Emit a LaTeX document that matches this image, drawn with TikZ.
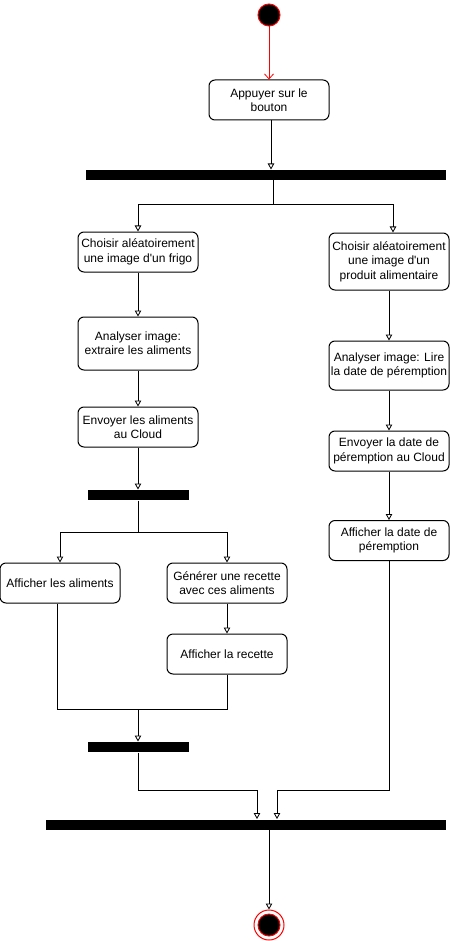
\documentclass[tikz,border=0pt]{standalone}
\usepackage{fontspec}
\setmainfont{Liberation Sans}[Ligatures=TeXOff]
\usetikzlibrary{arrows.meta}
\begin{document}
\begin{tikzpicture}[x=1pt,y=-1pt, line width=1pt,
 act/.style={draw, rounded corners=6pt, minimum width=120pt, align=center, font=\fontsize{12}{14.4}\selectfont, inner sep=0pt},
 bar/.style={fill=black, draw=none, inner sep=0pt, minimum height=10pt},
 arr/.style={-{Triangle[open,length=6pt,width=6.5pt,line width=0.8pt]}}
]
\useasboundingbox (0,0) rectangle (450,941);
% initial and final
\node[circle, fill=black, draw=red, minimum size=22pt, inner sep=0pt] (start) at (269,15) {};
\node[circle, draw=red, minimum size=30pt, inner sep=0pt] (end) at (269,925) {};
\node[circle, fill=black, draw=red, minimum size=22pt, inner sep=0pt] (endin) at (269,925) {};
% actions
\node[act, minimum height=40pt] (b1) at (269,100) {Appuyer sur le\\bouton};
\node[act, minimum height=40pt] (l1) at (138,252) {Choisir aléatoirement\\une image d'un frigo};
\node[act, minimum height=53pt] (l2) at (138,343.5) {Analyser image:\\extraire les aliments};
\node[act, minimum height=40pt] (l3) at (138,427) {Envoyer les aliments\\au Cloud};
\node[act, minimum height=40pt] (a1) at (60,583) {Afficher les aliments};
\node[act, minimum height=40pt] (g1) at (227,583) {Générer une recette\\avec ces aliments};
\node[act, minimum height=40pt] (g2) at (227,654) {Afficher la recette};
\node[act, minimum height=57pt] (r1) at (389,261.5) {Choisir aléatoirement\\une image d'un\\produit alimentaire};
\node[act, minimum height=49pt] (r2) at (389,365.5) {Analyser image: Lire\\la date de péremption};
\node[act, minimum height=40pt] (r3) at (389,451) {Envoyer la date de\\péremption au Cloud};
\node[act, minimum height=40pt] (r4) at (389,540.5) {Afficher la date de\\péremption};
% bars
\node[bar, minimum width=360pt] (bar1) at (266,175) {};
\node[bar, minimum width=101pt] (bar2) at (138.5,495) {};
\node[bar, minimum width=101pt] (bar3) at (138.5,747) {};
\node[bar, minimum width=400pt] (bar4) at (246,824.5) {};
% routing points
\coordinate (s1) at (273,205);
\coordinate (s2) at (138,532);
\coordinate (j1) at (138,709);
\coordinate (j2) at (257,790);
\coordinate (j3) at (277,790);
% connectors
\draw[red, -{Straight Barb[length=5pt,width=9pt,line width=0.8pt]}] (start) -- (b1);
\draw[arr] ([xshift=2pt]b1.south) -- ([xshift=2pt]b1.south |- bar1.north);
\draw (bar1.south -| s1) -- (s1);
\draw[arr] (s1) -| (l1.north);
\draw[arr] (s1) -| ([xshift=4pt]r1.north);
\draw[arr] (l1) -- (l2);
\draw[arr] (l2) -- (l3);
\draw[arr] (l3) -- (l3.south |- bar2.north);
\draw (bar2.south -| s2) -- (s2);
\draw[arr] (s2) -| (a1.north);
\draw[arr] (s2) -| (g1.north);
\draw[arr] (g1) -- (g2);
\draw ([xshift=-3pt]a1.south) |- (j1);
\draw (g2.south) |- (j1);
\draw[arr] (j1) -- (j1 |- bar3.north);
\draw[arr] (bar3.south -| j1) |- (j2) -- (j2 |- bar4.north);
\draw[arr] (r1) -- (r2);
\draw[arr] (r2) -- (r3);
\draw[arr] (r3) -- (r4);
\draw[arr] (r4.south) |- (j3) -- (j3 |- bar4.north);
\draw[arr] (bar4.south -| end) -- (end.north);
\end{tikzpicture}
\end{document}
